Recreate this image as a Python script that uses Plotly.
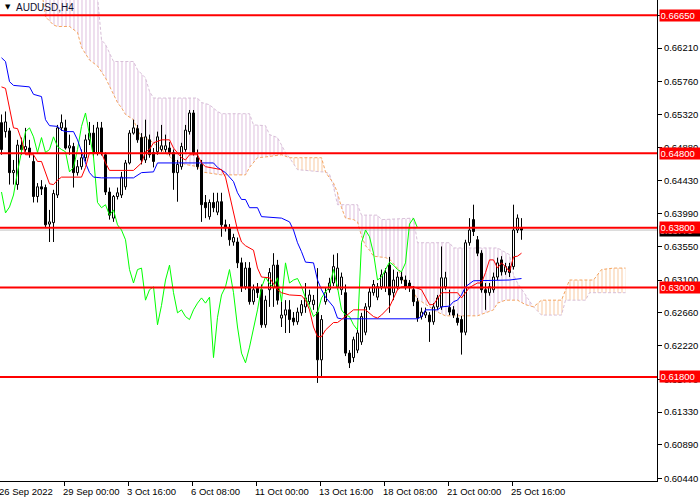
import plotly.graph_objects as go

# ---------------- data (AUDUSD H4, bar index 0..130) ----------------
open_ = [.6521,.6509,.6510,.6454,.6438,.6491,.6485,.6487,.6469,.6422,
         .6435,.6434,.6385,.6387,.6424,.6514,.6514,.6487,.6489,.6454,
         .6462,.6474,.6498,.6507,.6481,.6514,.6478,.6428,.6393,.6422,
         .6424,.6435,.6467,.6507,.6513,.6501,.6471,.6498,.6481,.6482,
         .6485,.6485,.6487,.6481,.6454,.6462,.6485,.6509,.6534,.6474,
         .6465,.6414,.6395,.6414,.6401,.6415,.6384,.6380,.6361,.6361,
         .6333,.6301,.6326,.6281,.6300,.6297,.6250,.6297,.6300,.6330,
         .6259,.6263,.6270,.6259,.6254,.6266,.6274,.6281,.6277,.6267,
         .6203,.6281,.6297,.6306,.6301,.6297,.6293,.6212,.6206,.6216,
         .6227,.6240,.6274,.6293,.6287,.6301,.6300,.6330,.6293,.6301,
         .6314,.6310,.6306,.6297,.6281,.6261,.6263,.6263,.6254,.6274,
         .6274,.6301,.6273,.6270,.6259,.6257,.6240,.6360,.6391,.6364,
         .6346,.6297,.6293,.6297,.6314,.6337,.6321,.6328,.6328,.6377,.6380]
high = [.6532,.6536,.6514,.6471,.6498,.6501,.6514,.6498,.6478,.6440,
        .6444,.6438,.6404,.6431,.6518,.6532,.6525,.6505,.6494,.6471,
        .6485,.6505,.6522,.6518,.6522,.6522,.6481,.6434,.6424,.6434,
        .6455,.6471,.6511,.6525,.6518,.6507,.6525,.6505,.6487,.6509,
        .6518,.6505,.6495,.6485,.6471,.6494,.6518,.6538,.6538,.6485,
        .6471,.6424,.6418,.6427,.6427,.6427,.6391,.6385,.6372,.6367,
        .6340,.6334,.6334,.6304,.6306,.6304,.6289,.6326,.6346,.6337,
        .6283,.6283,.6283,.6267,.6273,.6283,.6306,.6297,.6290,.6326,
        .6263,.6300,.6313,.6344,.6346,.6320,.6304,.6216,.6234,.6243,
        .6266,.6279,.6300,.6310,.6306,.6324,.6326,.6341,.6324,.6321,
        .6321,.6316,.6310,.6302,.6286,.6273,.6273,.6267,.6279,.6290,
        .6355,.6321,.6297,.6275,.6265,.6262,.6364,.6393,.6411,.6369,
        .6350,.6306,.6306,.6320,.6340,.6342,.6333,.6333,.6411,.6398,.6393]
low = [.6478,.6501,.6438,.6438,.6431,.6478,.6482,.6474,.6414,.6414,
       .6424,.6380,.6361,.6361,.6420,.6510,.6485,.6478,.6434,.6450,
       .6458,.6469,.6491,.6474,.6477,.6477,.6424,.6391,.6388,.6418,
       .6420,.6431,.6465,.6505,.6494,.6465,.6467,.6474,.6461,.6478,
       .6482,.6481,.6477,.6431,.6415,.6458,.6482,.6505,.6477,.6458,
       .6388,.6393,.6391,.6401,.6397,.6368,.6375,.6356,.6356,.6326,
       .6294,.6297,.6277,.6277,.6286,.6246,.6246,.6274,.6274,.6277,
       .6247,.6239,.6239,.6249,.6250,.6262,.6266,.6277,.6270,.6172,
       .6180,.6277,.6293,.6302,.6297,.6290,.6208,.6192,.6200,.6212,
       .6223,.6236,.6270,.6289,.6283,.6297,.6294,.6266,.6283,.6297,
       .6305,.6297,.6294,.6275,.6254,.6257,.6259,.6227,.6250,.6270,
       .6270,.6297,.6263,.6259,.6249,.6210,.6236,.6356,.6369,.6342,
       .6293,.6270,.6289,.6293,.6310,.6316,.6317,.6314,.6324,.6373,.6364]
close = [.6485,.6522,.6454,.6457,.6491,.6485,.6489,.6481,.6422,.6435,
         .6432,.6384,.6388,.6426,.6514,.6521,.6487,.6490,.6454,.6462,
         .6474,.6498,.6507,.6481,.6514,.6481,.6428,.6397,.6422,.6427,
         .6448,.6467,.6507,.6514,.6498,.6471,.6502,.6478,.6469,.6502,
         .6490,.6490,.6481,.6454,.6465,.6489,.6511,.6534,.6481,.6462,
         .6411,.6407,.6414,.6407,.6415,.6384,.6380,.6364,.6367,.6333,
         .6301,.6326,.6281,.6297,.6293,.6250,.6283,.6320,.6330,.6283,
         .6263,.6270,.6257,.6254,.6267,.6277,.6286,.6290,.6283,.6203,
         .6257,.6293,.6306,.6328,.6326,.6314,.6212,.6199,.6230,.6239,
         .6261,.6274,.6294,.6304,.6301,.6317,.6320,.6290,.6310,.6314,
         .6310,.6301,.6301,.6281,.6259,.6267,.6267,.6254,.6274,.6286,
         .6313,.6313,.6267,.6263,.6253,.6240,.6360,.6377,.6375,.6346,
         .6297,.6293,.6301,.6314,.6333,.6321,.6328,.6320,.6377,.6393,.6377]

# Ichimoku lines (bar index, price)
tenkan_bar = [0,1,3,4,5,6,8,9,10,11,12,13,14,15,20,21,22,25,26,27,33,35,36,37,38,40,42,43,45,46,47,49,50,51,55,56,57,58,59,60,61,63,64,65,67,69,70,72,75,76,77,78,79,80,81,83,84,85,88,91,93,94,95,97,99,100,103,105,107,108,110,114,115,117,119,120,121,122,123,124,125,126,127,128,129,130]
tenkan_val = [.6569,.6567,.6514,.6513,.6498,.6478,.6478,.6469,.6469,.6454,.6439,.6438,.6444,.6448,.6448,.6461,.6481,.6481,.6467,.6457,.6457,.6467,.6482,.6485,.6494,.6498,.6498,.6487,.6474,.6471,.6478,.6478,.6467,.6462,.6458,.6448,.6424,.6397,.6377,.6361,.6356,.6350,.6326,.6314,.6313,.6297,.6293,.6290,.6289,.6283,.6270,.6247,.6234,.6234,.6243,.6253,.6253,.6257,.6270,.6270,.6261,.6259,.6263,.6274,.6297,.6301,.6301,.6297,.6277,.6277,.6293,.6293,.6286,.6300,.6306,.6306,.6320,.6337,.6337,.6326,.6333,.6328,.6321,.6341,.6342,.6346]

kijun_bar = [0,1,2,3,7,8,10,11,12,14,15,16,18,19,21,22,23,25,33,35,38,39,53,54,56,58,59,60,61,62,64,65,70,72,73,74,75,76,78,79,80,81,83,84,85,104,105,106,109,110,112,113,114,115,116,118,127,130]
kijun_val = [.6608,.6603,.6576,.6571,.6569,.6559,.6556,.6525,.6517,.6516,.6511,.6509,.6509,.6498,.6467,.6454,.6448,.6447,.6447,.6454,.6455,.6467,.6467,.6461,.6454,.6442,.6427,.6418,.6418,.6407,.6407,.6395,.6393,.6388,.6377,.6360,.6348,.6334,.6333,.6310,.6297,.6287,.6274,.6259,.6258,.6258,.6261,.6270,.6270,.6274,.6275,.6281,.6283,.6290,.6301,.6309,.6310,.6312]

chikou_val = [.6428,.6400,.6408,.6424,.6455,.6481,.6509,.6514,.6502,.6481,
              .6501,.6481,.6485,.6502,.6489,.6485,.6482,.6455,.6461,.6485,
              .6516,.6534,.6505,.6475,.6414,.6407,.6411,.6397,.6404,.6384,
              .6377,.6364,.6324,.6306,.6324,.6326,.6283,.6297,.6301,.6250,
              .6276,.6310,.6330,.6293,.6266,.6270,.6261,.6257,.6270,.6279,
              .6286,.6279,.6287,.6206,.6260,.6290,.6301,.6324,.6293,.6247,
              .6212,.6199,.6220,.6243,.6270,.6300,.6314,.6305,.6300,.6313,
              .6281,.6333,.6306,.6310,.6312,.6301,.6286,.6275,.6261,.6266,
              .6286,.6294,.6301,.6324,.6300,.6270,.6263,.6261,.6250,.6243,
              .6360,.6377,.6368,.6346,.6310,.6314,.6324,.6334,.6330,.6324,
              .6321,.6333,.6385,.6393,.6380]

spanA_bar = [10,11,13,14,17,19,20,22,24,25,26,28,29,30,31,33,34,35,37,40,43,46,49,50,55,61,62,64,66,70,71,72,80,81,82,83,84,85,86,88,89,90,91,92,93,96,97,99,101,103,104,105,107,109,111,119,121,123,124,126,129,131,133,135,140,142,148,150,153,156]
spanA_val = [.6700,.6663,.6652,.6650,.6650,.6642,.6622,.6605,.6597,.6589,.6581,.6559,.6548,.6541,.6532,.6525,.6511,.6502,.6498,.6485,.6471,.6465,.6462,.6455,.6451,.6451,.6461,.6474,.6475,.6478,.6476,.6474,.6474,.6455,.6447,.6440,.6427,.6407,.6393,.6391,.6388,.6369,.6356,.6350,.6342,.6340,.6338,.6326,.6304,.6296,.6283,.6281,.6274,.6267,.6262,.6262,.6266,.6270,.6279,.6283,.6283,.6277,.6274,.6283,.6283,.6310,.6310,.6324,.6326,.6326]

spanB_bar = [10,23,24,25,26,28,33,34,36,37,38,49,50,52,54,55,62,63,66,67,69,70,71,72,74,80,81,82,83,84,89,90,94,95,103,104,112,113,124,127,128,129,131,133,135,140,141,146,147,156]
spanB_val = [.6720,.6720,.6690,.6632,.6626,.6603,.6603,.6592,.6581,.6563,.6554,.6554,.6548,.6545,.6536,.6533,.6533,.6518,.6517,.6505,.6501,.6490,.6481,.6474,.6458,.6455,.6455,.6452,.6435,.6411,.6411,.6397,.6397,.6391,.6393,.6360,.6360,.6353,.6353,.6344,.6317,.6306,.6290,.6274,.6263,.6263,.6283,.6283,.6293,.6293]

# cloud segments: (first bar, last bar, span on top)
cloud_segments = [(10, 72, "B"), (72, 81, "A"), (81, 133, "B"), (133, 156, "A")]

levels = [0.6665, 0.6480, 0.6380, 0.6300, 0.6180]
level_text = ["0.66650", "0.64800", "0.63800", "0.63000", "0.61800"]
bid_price = 0.6377

ytick_vals = [0.60440, 0.60890, 0.61330, 0.61770, 0.62220, 0.62660, 0.63100, 0.63550,
              0.63990, 0.64430, 0.64880, 0.65320, 0.65760, 0.66210, 0.66650]
xtick_bars = [0, 16, 32, 48, 64, 80, 96, 112, 128]
xtick_text = ["26 Sep 2022", "29 Sep 00:00", "3 Oct 16:00", "6 Oct 08:00", "11 Oct 00:00",
              "13 Oct 16:00", "18 Oct 08:00", "21 Oct 00:00", "25 Oct 16:00"]

# ---------------- figure ----------------
FONT = "Liberation Sans"
THISTLE = "#C792C7"
THISTLE_LINE = "#D8BFD8"
SANDY = "#F4A460"
HALF = 0.25  # half body width in bar units
bars = list(range(len(close)))
fig = go.Figure()

spans = {"A": (spanA_bar, spanA_val), "B": (spanB_bar, spanB_val)}
for lo, hi, top in cloud_segments:
    bot = "A" if top == "B" else "B"
    tb, tv = spans[top]
    bb, bv = spans[bot]
    up = [(b, v) for b, v in zip(tb, tv) if lo <= b <= hi]
    dn = [(b, v) for b, v in zip(bb, bv) if lo <= b <= hi][::-1]
    col = THISTLE if top == "B" else SANDY
    fig.add_trace(go.Scatter(
        x=[p[0] for p in up] + [p[0] for p in dn],
        y=[p[1] for p in up] + [p[1] for p in dn],
        mode="lines", fill="toself", line=dict(width=0),
        fillcolor="rgba(0,0,0,0)",
        fillpattern=dict(shape="|", fgcolor=col, bgcolor="rgba(0,0,0,0)",
                         size=4, solidity=0.3),
        hoverinfo="skip", showlegend=False))

fig.add_trace(go.Scatter(x=spanB_bar, y=spanB_val, mode="lines",
                         line=dict(color=THISTLE_LINE, width=1, dash="3px,2px"),
                         hoverinfo="skip", showlegend=False))
fig.add_trace(go.Scatter(x=spanA_bar, y=spanA_val, mode="lines",
                         line=dict(color=SANDY, width=1, dash="3px,2px"),
                         hoverinfo="skip", showlegend=False))

# candle wicks (outside of the bodies)
wx, wy = [], []
for i, o, h, l, c in zip(bars, open_, high, low, close):
    top_b, bot_b = max(o, c), min(o, c)
    wx += [i, i, None, i, i, None]
    wy += [h, top_b, None, bot_b, l, None]
fig.add_trace(go.Scatter(x=wx, y=wy, mode="lines", line=dict(color="black", width=1),
                         hoverinfo="skip", showlegend=False, connectgaps=False))

# candle bodies
for bull in (True, False):
    bx, by = [], []
    for i, o, c in zip(bars, open_, close):
        if (c >= o) != bull:
            continue
        bx += [i - HALF, i + HALF, i + HALF, i - HALF, i - HALF, None]
        by += [o, o, c, c, o, None]
    fig.add_trace(go.Scatter(x=bx, y=by, mode="lines", fill="toself",
                             fillcolor="white" if bull else "black",
                             line=dict(color="black", width=1),
                             hoverinfo="skip", showlegend=False))

fig.add_trace(go.Scatter(x=list(range(len(chikou_val))), y=chikou_val, mode="lines",
                         line=dict(color="#00FF00", width=1), hoverinfo="skip", showlegend=False))
fig.add_trace(go.Scatter(x=kijun_bar, y=kijun_val, mode="lines",
                         line=dict(color="#0000FF", width=1), hoverinfo="skip", showlegend=False))
fig.add_trace(go.Scatter(x=tenkan_bar, y=tenkan_val, mode="lines",
                         line=dict(color="#FF0000", width=1), hoverinfo="skip", showlegend=False))

shapes = [dict(type="line", xref="paper", x0=0, x1=1, yref="y", y0=bid_price, y1=bid_price,
               line=dict(color="#C0C0C0", width=1), layer="below")]
for lv in levels:
    shapes.append(dict(type="line", xref="paper", x0=0, x1=1, yref="y", y0=lv, y1=lv,
                       line=dict(color="#FF0000", width=2), layer="above"))

annotations = []
# bid marker (mostly hidden behind the red label)
annotations.append(dict(xref="paper", x=659 / 657, xanchor="left", yref="y", y=bid_price - 0.00012,
                        yanchor="middle", text="0.63770", showarrow=False, bgcolor="black",
                        font=dict(family=FONT, size=9, color="white"), width=40, height=10,
                        borderpad=0, align="left"))
for lv, t in zip(levels, level_text):
    annotations.append(dict(xref="paper", x=659 / 657, xanchor="left", yref="y", y=lv,
                            yanchor="middle", text=t, showarrow=False, bgcolor="#FF0000",
                            font=dict(family=FONT, size=9.5, color="white"), width=40, height=10,
                            borderpad=0.5, align="left"))
for b, t in zip(xtick_bars, xtick_text):
    annotations.append(dict(xref="x", x=b - 0.375, xanchor="left", xshift=-3,
                            yref="paper", y=0, yanchor="top", yshift=-3,
                            text=t, showarrow=False, font=dict(family=FONT, size=9.5, color="black")))
annotations.append(dict(xref="paper", x=3 / 657, xanchor="left", yref="paper", y=1 - 7 / 481,
                        yanchor="middle", text="▼", showarrow=False,
                        font=dict(family="DejaVu Sans", size=7, color="black")))
annotations.append(dict(xref="paper", x=14 / 657, xanchor="left", yref="paper", y=1 - 7.5 / 481,
                        yanchor="middle", text="AUDUSD,H4", showarrow=False,
                        font=dict(family=FONT, size=10, color="#101030")))

fig.update_layout(
    width=700, height=500,
    margin=dict(l=0, r=43, t=0, b=19),
    paper_bgcolor="white", plot_bgcolor="white",
    font=dict(family=FONT, size=9.5, color="black"),
    showlegend=False,
    shapes=shapes, annotations=annotations,
    xaxis=dict(range=[-0.375, 163.875], showgrid=False, zeroline=False,
               showline=True, linecolor="black", linewidth=1,
               tickmode="array", tickvals=[b - 0.375 for b in xtick_bars[1:]],
               ticktext=["" for _ in xtick_bars[1:]], ticks="outside", ticklen=4,
               tickcolor="black", fixedrange=True),
    yaxis=dict(range=[0.60405, 0.66855], side="right", showgrid=False, zeroline=False,
               showline=True, linecolor="black", linewidth=1,
               tickmode="array", tickvals=ytick_vals, ticktext=[f"{v:.5f}" for v in ytick_vals],
               ticks="outside", ticklen=4, tickcolor="black",
               tickfont=dict(family=FONT, size=9.5, color="black"), fixedrange=True),
)

fig.write_html("out.html", config={"displayModeBar": False, "staticPlot": True},
               post_script="document.body.style.margin='0';document.body.style.overflow='hidden';")
